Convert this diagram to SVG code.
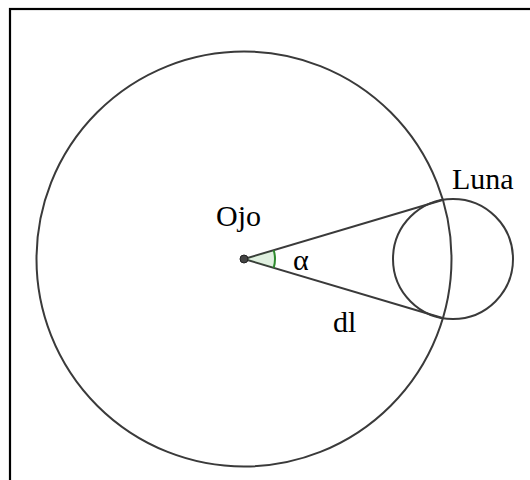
<svg xmlns="http://www.w3.org/2000/svg" width="530" height="480" viewBox="0 0 530 480">
<style>
.ln{fill:none;stroke:#3a3a3a;stroke-width:2}
.t{font-family:"Liberation Serif","Times New Roman",serif;font-size:30px;fill:#000}
</style>
<rect x="0" y="0" width="530" height="480" fill="#fff"/>
<rect x="10" y="9" width="600" height="600" fill="none" stroke="#000" stroke-width="2.2"/>
<g id="orbita"><circle class="ln" cx="244" cy="259" r="207.5"/></g>
<g id="luna"><circle class="ln" cx="453" cy="259" r="60"/><text class="t" x="452" y="189">Luna</text></g>
<g id="connectors">
<line class="ln" x1="244" y1="259" x2="443.4" y2="199.8"/>
<line class="ln" x1="244" y1="259" x2="443.4" y2="318.2"/>
</g>
<g id="angulo">
<path d="M244,259 L273.7,250.2 A31,31 0 0 1 273.7,267.8 Z" fill="#2e9b2e" fill-opacity="0.15" stroke="none"/>
<path d="M273.7,250.2 A31,31 0 0 1 273.7,267.8" fill="none" stroke="#2e8b2e" stroke-width="2"/>
<text class="t" x="293" y="270">α</text>
</g>
<g id="ojo"><circle cx="244" cy="259" r="4" fill="#444" stroke="#222" stroke-width="1"/><text class="t" x="216" y="226">Ojo</text></g>
<g id="dl"><text class="t" x="333" y="332">dl</text></g>
</svg>
